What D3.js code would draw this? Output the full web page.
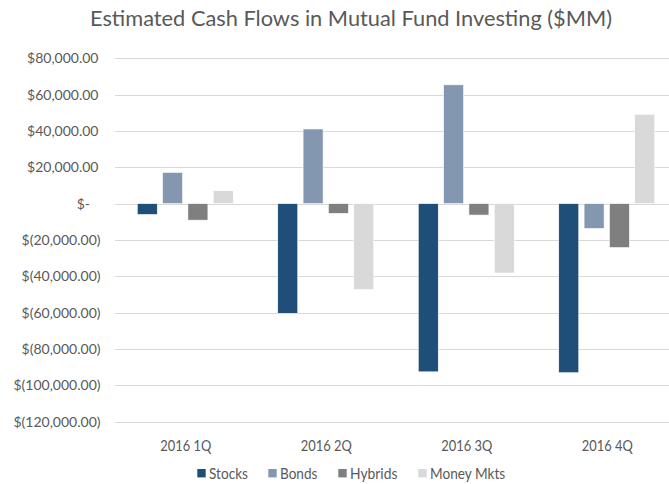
<!DOCTYPE html>
<html>
<head>
<meta charset="utf-8">
<script src="https://cdn.jsdelivr.net/npm/d3@7"></script>
<style>
  html, body { margin: 0; padding: 0; background: #fff; }
  svg { display: block; }
  text { font-family: "Lato", "Open Sans", sans-serif; fill: #595959; }
</style>
</head>
<body>
<svg id="chart" width="669" height="484"></svg>
<script>
// ---- data ----
const categories = ["2016 1Q", "2016 2Q", "2016 3Q", "2016 4Q"];
const seriesNames = ["Stocks", "Bonds", "Hybrids", "Money Mkts"];
const stocks    = [-6000, -60400, -92600, -93100];
const bonds     = [17200, 41100, 65400, -13700];
const hybrids   = [-9100, -5400, -6300, -24200];
const moneyMkts = [7100, -47300, -38200, 49200];
const yTicks = [80000, 60000, 40000, 20000, 0, -20000, -40000, -60000, -80000, -100000, -120000];
const title = "Estimated Cash Flows in Mutual Fund Investing ($MM)";
const colors = ["#1F4E79", "#8497B0", "#7F7F7F", "#D9D9D9"];

const seriesValues = [stocks, bonds, hybrids, moneyMkts];

// ---- layout ----
const svg = d3.select("#chart");
const plot = { left: 115, right: 677, top: 58.3, bottom: 421.6 };

const x0 = d3.scaleBand().domain(categories).range([plot.left, plot.right]).padding(0);
const groupInner = 96;
const x1 = d3.scaleBand().domain(seriesNames).range([0, groupInner]).paddingInner(0.21).paddingOuter(0);
const y = d3.scaleLinear().domain([-120000, 80000]).range([plot.bottom, plot.top]);
const color = d3.scaleOrdinal().domain(seriesNames).range(colors);

// gridlines
svg.append("g").selectAll("line").data(yTicks).join("line")
  .attr("x1", plot.left).attr("x2", 669)
  .attr("y1", d => Math.round(y(d)) + 0.5).attr("y2", d => Math.round(y(d)) + 0.5)
  .attr("stroke", "#D9D9D9").attr("stroke-width", 1);

// y labels
const nf = d3.format(",.2f");
const fmt = v => v > 0 ? "$" + nf(v) : (v < 0 ? "$(" + nf(-v) + ")" : "$-");
svg.append("g").selectAll("text").data(yTicks).join("text")
  .attr("x", d => d > 0 ? 98.5 : (d < 0 ? 100.5 : 90))
  .attr("y", d => y(d))
  .attr("dy", "0.36em")
  .attr("text-anchor", "end")
  .attr("font-size", 14)
  .text(fmt);

// bars
const rows = categories.map((c, i) => ({ cat: c, vals: seriesNames.map((s, j) => ({ s, v: seriesValues[j][i] })) }));
const offset = (x0.bandwidth() - groupInner) / 2;
const groups = svg.append("g").selectAll("g").data(rows).join("g")
  .attr("transform", d => `translate(${x0(d.cat) + offset},0)`);
groups.selectAll("rect").data(d => d.vals).join("rect")
  .attr("x", d => x1(d.s))
  .attr("width", x1.bandwidth())
  .attr("y", d => y(Math.max(0, d.v)))
  .attr("height", d => Math.abs(y(d.v) - y(0)))
  .attr("fill", d => color(d.s))
  .attr("stroke", "#fff").attr("stroke-width", 0.6);

// category labels
svg.append("g").selectAll("text").data(categories).join("text")
  .attr("x", d => x0(d) + x0.bandwidth() / 2 + 0.5)
  .attr("y", 450.7)
  .attr("text-anchor", "middle")
  .attr("font-size", 14.5)
  .attr("textLength", 51).attr("lengthAdjust", "spacingAndGlyphs")
  .text(d => d);

// title
svg.append("text")
  .attr("x", 351).attr("y", 26)
  .attr("text-anchor", "middle")
  .attr("font-size", 21)
  .attr("textLength", 522).attr("lengthAdjust", "spacingAndGlyphs")
  .text(title);

// legend
const legendX = [197.3, 268.3, 338.3, 418.3];
const legendTextW = [39, 37.4, 47.4, 75.3];
const lg = svg.append("g").selectAll("g").data(seriesNames).join("g")
  .attr("transform", (d, i) => `translate(${legendX[i]},469)`);
lg.append("rect").attr("width", 8.4).attr("height", 8.4).attr("fill", d => color(d));
lg.append("text").attr("x", 11.7).attr("y", 10.3)
  .attr("font-size", 14.5)
  .attr("textLength", (d, i) => legendTextW[i]).attr("lengthAdjust", "spacingAndGlyphs")
  .text(d => d);
</script>
</body>
</html>
